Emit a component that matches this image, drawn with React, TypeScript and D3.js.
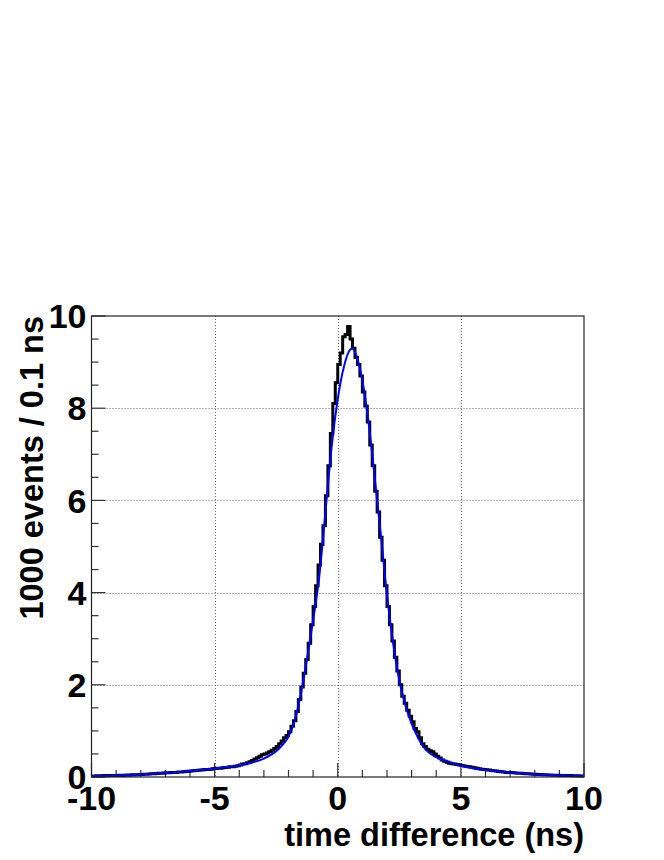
import * as React from 'react';
import * as d3 from 'd3';

// 200 bins of 0.1 ns from -10 to 10, counts in units of 1000 events
const binStart = -10;
const binWidth = 0.1;
const counts: number[] = [
  0.02, 0.02, 0.025, 0.02, 0.025, 0.03, 0.025, 0.03, 0.03, 0.035,
  0.035, 0.04, 0.035, 0.04, 0.045, 0.04, 0.05, 0.045, 0.05, 0.055,
  0.055, 0.06, 0.06, 0.065, 0.07, 0.07, 0.075, 0.08, 0.08, 0.085,
  0.09, 0.09, 0.095, 0.1, 0.1, 0.11, 0.11, 0.115, 0.12, 0.125,
  0.13, 0.135, 0.14, 0.145, 0.15, 0.155, 0.16, 0.165, 0.17, 0.18,
  0.185, 0.19, 0.19, 0.2, 0.205, 0.21, 0.22, 0.225, 0.235, 0.245,
  0.26, 0.28, 0.29, 0.31, 0.33, 0.36, 0.39, 0.42, 0.45, 0.48,
  0.5, 0.52, 0.55, 0.58, 0.62, 0.66, 0.72, 0.78, 0.85, 0.9,
  0.98, 1.1, 1.22, 1.42, 1.68, 1.95, 2.25, 2.55, 2.9, 3.3,
  3.7, 4.15, 4.6, 5.05, 5.45, 6.1, 6.75, 7.45, 8.1, 8.55,
  8.95, 9.2, 9.55, 9.6, 9.77, 9.5, 9.3, 9.1, 8.95, 8.7,
  8.35, 8.05, 7.7, 7.2, 6.75, 6.2, 5.75, 5.2, 4.7, 4.15,
  3.7, 3.3, 2.95, 2.6, 2.3, 2.0, 1.75, 1.6, 1.45, 1.32,
  1.2, 1.05, 0.98, 0.85, 0.72, 0.66, 0.6, 0.57, 0.55, 0.5,
  0.45, 0.41, 0.37, 0.34, 0.32, 0.3, 0.29, 0.28, 0.27, 0.26,
  0.25, 0.24, 0.23, 0.22, 0.21, 0.2, 0.19, 0.18, 0.17, 0.16,
  0.155, 0.15, 0.14, 0.135, 0.13, 0.12, 0.115, 0.11, 0.1, 0.1,
  0.095, 0.09, 0.085, 0.08, 0.08, 0.075, 0.07, 0.07, 0.065, 0.06,
  0.06, 0.055, 0.055, 0.05, 0.05, 0.045, 0.045, 0.04, 0.04, 0.04,
  0.035, 0.035, 0.03, 0.03, 0.03, 0.025, 0.025, 0.025, 0.02, 0.02,
];

// fitted curve
const fitT = [-10, -9, -8, -7, -6, -5, -4.5, -4, -3.5, -3, -2.75, -2.5, -2.25, -2, -1.75, -1.5, -1.25, -1,
  -0.75, -0.5, -0.25, 0, 0.25, 0.5, 0.6, 0.75, 1, 1.25, 1.5, 1.75, 2, 2.25, 2.5, 2.75, 3, 3.25, 3.5, 3.75, 4,
  4.5, 5, 5.5, 6, 7, 8, 9, 10];
const fitV = [0.02, 0.035, 0.055, 0.085, 0.13, 0.185, 0.215, 0.255, 0.31, 0.4, 0.47, 0.56, 0.69, 0.88, 1.22, 1.8, 2.55, 3.4,
  4.35, 5.75, 7.15, 8.2, 8.9, 9.27, 9.3, 9.15, 8.6, 7.7, 6.5, 5.25, 3.95, 2.9, 2.1, 1.55, 1.16, 0.86, 0.64, 0.51, 0.43,
  0.33, 0.245, 0.19, 0.15, 0.095, 0.06, 0.04, 0.022];

const xTicks = [-10, -5, 0, 5, 10];
const yTicks = [0, 2, 4, 6, 8, 10];
const xTitle = 'time difference (ns)';
const yTitle = '1000 events / 0.1 ns';

const App: React.FC = () => {
  const ref = React.useRef<SVGSVGElement>(null);

  React.useEffect(() => {
    const width = 664;
    const height = 860;
    const left = 91.5, right = 584, top = 316, bottom = 777;
    const font = '"Liberation Sans", Arial, Helvetica, sans-serif';

    const svg = d3.select(ref.current!);
    svg.selectAll('*').remove();
    svg.attr('width', width).attr('height', height);

    const x = d3.scaleLinear().domain([-10, 10]).range([left, right]);
    const y = d3.scaleLinear().domain([0, 10]).range([bottom, top]);

    svg.append('rect').attr('width', width).attr('height', height).attr('fill', 'white');

    // grid
    const grid = svg.append('g')
      .attr('stroke', '#666')
      .attr('stroke-width', 1)
      .attr('stroke-dasharray', '1,2');
    grid.selectAll('.gx')
      .data(xTicks.slice(1, -1))
      .enter().append('line')
        .attr('x1', d => Math.round(x(d)) + 0.5).attr('x2', d => Math.round(x(d)) + 0.5)
        .attr('y1', top).attr('y2', bottom);
    grid.selectAll('.gy')
      .data(yTicks.slice(1, -1))
      .enter().append('line')
        .attr('y1', d => Math.round(y(d)) + 0.5).attr('y2', d => Math.round(y(d)) + 0.5)
        .attr('x1', left).attr('x2', right);

    // ticks
    const ticks = svg.append('g').attr('stroke', '#333').attr('stroke-width', 1.2);
    const yMinor = d3.range(0, 10.01, 0.5);
    ticks.selectAll('.ty')
      .data(yMinor)
      .enter().append('line')
        .attr('x1', left)
        .attr('x2', d => left + (Math.abs(d % 2) < 1e-6 ? 14 : 7))
        .attr('y1', d => y(d)).attr('y2', d => y(d));
    const xMinor = d3.range(-10, 10.01, 1);
    ticks.selectAll('.tx')
      .data(xMinor)
      .enter().append('line')
        .attr('x1', d => x(d)).attr('x2', d => x(d))
        .attr('y1', bottom)
        .attr('y2', d => bottom - (Math.abs(d % 5) < 1e-6 ? 14 : 7));

    // histogram outline
    const pts: [number, number][] = counts.map((c, i) => [binStart + i * binWidth, c]);
    pts.push([binStart + counts.length * binWidth, counts[counts.length - 1]]);
    const step = d3.line<[number, number]>()
      .x(d => x(d[0]))
      .y(d => y(d[1]))
      .curve(d3.curveStepAfter);
    svg.append('path')
      .attr('d', step(pts))
      .attr('fill', 'none')
      .attr('stroke', 'black')
      .attr('stroke-width', 3);

    // fit
    const fitLine = d3.line<number>()
      .x((d, i) => x(fitT[i]))
      .y(d => y(d))
      .curve(d3.curveMonotoneX);
    svg.append('path')
      .attr('d', fitLine(fitV))
      .attr('fill', 'none')
      .attr('stroke', '#0000ff')
      .attr('stroke-width', 2);

    // frame
    svg.append('rect')
      .attr('x', left).attr('y', top)
      .attr('width', right - left).attr('height', bottom - top)
      .attr('fill', 'none')
      .attr('stroke', '#222')
      .attr('stroke-width', 1.2);

    // labels
    svg.selectAll('.ly')
      .data(yTicks)
      .enter().append('text')
        .attr('x', left - 5)
        .attr('y', d => y(d))
        .attr('dy', '0.36em')
        .attr('text-anchor', 'end')
        .attr('font-family', font)
        .attr('font-weight', 'bold')
        .attr('font-size', 34)
        .text(d => d);
    svg.selectAll('.lx')
      .data(xTicks)
      .enter().append('text')
        .attr('x', d => x(d))
        .attr('y', 810)
        .attr('text-anchor', 'middle')
        .attr('font-family', font)
        .attr('font-weight', 'bold')
        .attr('font-size', 34)
        .text(d => d);

    svg.append('text')
      .attr('x', right)
      .attr('y', 846)
      .attr('text-anchor', 'end')
      .attr('font-family', font)
      .attr('font-weight', 'bold')
      .attr('font-size', 32.5)
      .text(xTitle);
    svg.append('text')
      .attr('transform', `translate(43,${top}) rotate(-90)`)
      .attr('text-anchor', 'end')
      .attr('font-family', font)
      .attr('font-weight', 'bold')
      .attr('font-size', 32.5)
      .text(yTitle);
  }, []);

  return (
    <div style={{ position: 'absolute', left: 0, top: 0 }}>
      <svg ref={ref} style={{ display: 'block' }} />
    </div>
  );
};

export default App;
